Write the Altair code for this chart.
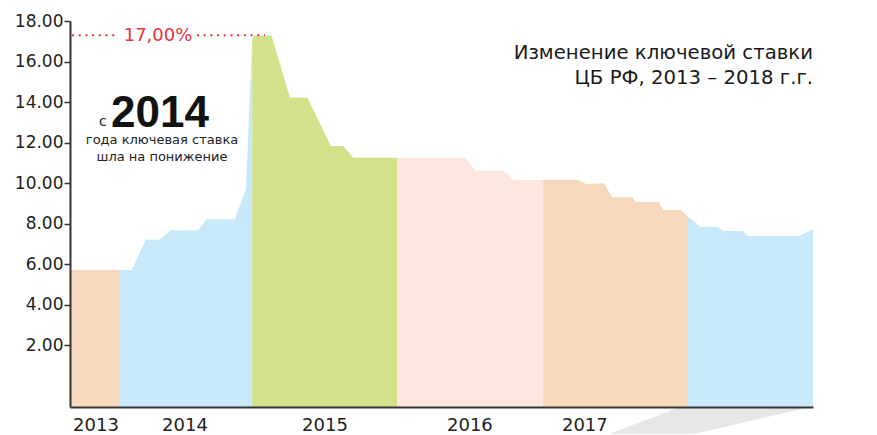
import altair as alt
import pandas as pd

# ---- data (x = fractional year, y = key rate as drawn) ----
band_names = ["b2013", "b2014", "b2015", "b2016", "b2017", "b2018"]
band_colors = ["#F6D9BD", "#C8E9F9", "#D3E18B", "#FDE7DE", "#F6D9BD", "#C8E9F9"]

t_2013 = [2013.662, 2014.000]
r_2013 = [5.71, 5.71]
t_2014 = [2014.000, 2014.088, 2014.186, 2014.283, 2014.359, 2014.547, 2014.605, 2014.800, 2014.876, 2014.919]
r_2014 = [5.71, 5.71, 7.22, 7.22, 7.67, 7.67, 8.21, 8.21, 9.74, 17.10]
t_2015 = [2014.919, 2014.931, 2015.053, 2015.179, 2015.299, 2015.462, 2015.547, 2015.616, 2015.921]
r_2015 = [17.10, 17.27, 17.27, 14.23, 14.23, 11.83, 11.83, 11.25, 11.25]
t_2016 = [2015.921, 2016.393, 2016.460, 2016.650, 2016.726, 2016.926]
r_2016 = [11.25, 11.25, 10.61, 10.61, 10.15, 10.15]
t_2017 = [2016.926, 2017.168, 2017.226, 2017.345, 2017.402, 2017.540, 2017.566, 2017.722, 2017.754, 2017.876, 2017.926]
r_2017 = [10.15, 10.15, 9.94, 10.00, 9.30, 9.30, 9.07, 9.07, 8.67, 8.67, 8.34]
t_2018 = [2017.926, 2018.007, 2018.133, 2018.168, 2018.301, 2018.340, 2018.692, 2018.788]
r_2018 = [8.34, 7.85, 7.85, 7.63, 7.63, 7.39, 7.39, 7.72]

year_labels = ["2013", "2014", "2015", "2016", "2017"]
year_label_t = [2013.841, 2014.455, 2015.421, 2016.421, 2017.214]

y_ticks = [2, 4, 6, 8, 10, 12, 14, 16, 18]
peak_value = 17.30
peak_text = "17,00%"
dot_start = [2013.676, 2014.538]
dot_end = [2013.993, 2015.007]

trap_t = [2017.366, 2017.869, 2017.938, 2018.766]
trap_top = [-2.43, -1.05, -1.05, -1.05]
trap_bottom = [-2.43, -2.43, -2.43, -1.05]

x_domain = [2013.662, 2018.788]
y_domain = [-1.05, 18]

title_lines = ["Изменение ключевой ставки", "ЦБ РФ, 2013 – 2018 г.г."]

# ---- build tables ----
rows = []
for name, ts, rs in zip(band_names, [t_2013, t_2014, t_2015, t_2016, t_2017, t_2018],
                        [r_2013, r_2014, r_2015, r_2016, r_2017, r_2018]):
    for tt, rr in zip(ts, rs):
        rows.append({"t": tt, "rate": rr, "base": y_domain[0], "band": name})
df = pd.DataFrame(rows)

W, H = 743, 386
FONT = "DejaVu Sans"

xs = alt.Scale(domain=x_domain, nice=False, zero=False)
ys = alt.Scale(domain=y_domain, nice=False, zero=False)
x_axis = alt.Axis(labels=False, ticks=False, grid=False, title=None,
                  domainColor="#333333", domainWidth=2, zindex=2)
y_axis = alt.Axis(values=y_ticks, format=".2f", grid=False, title=None,
                  labelFont=FONT, labelFontSize=17, labelColor="#222222",
                  labelPadding=1, tickSize=6, tickColor="#333333", tickWidth=1.5,
                  domainColor="#333333", domainWidth=2, zindex=2)

areas = alt.Chart(df).mark_area(interpolate="linear").encode(
    x=alt.X("t:Q", scale=xs, axis=x_axis),
    y=alt.Y("rate:Q", scale=ys, axis=y_axis, stack=None),
    y2="base:Q",
    color=alt.Color("band:N", scale=alt.Scale(domain=band_names, range=band_colors), legend=None),
    detail="band:N",
)

trap_df = pd.DataFrame({"t": trap_t, "rate": trap_top, "base": trap_bottom})
trap = alt.Chart(trap_df).mark_area(color="#E6E7E8", interpolate="linear").encode(
    x=alt.X("t:Q", scale=xs, axis=x_axis),
    y=alt.Y("rate:Q", scale=ys, axis=y_axis),
    y2="base:Q",
)

dots_df = pd.DataFrame({"t": dot_start, "t2": dot_end, "rate": [peak_value] * len(dot_start)})
dots = alt.Chart(dots_df).mark_rule(color="#E8333A", strokeWidth=2, strokeDash=[2, 4.7]).encode(
    x=alt.X("t:Q", scale=xs, axis=x_axis),
    x2="t2:Q",
    y=alt.Y("rate:Q", scale=ys, axis=y_axis),
)

one = pd.DataFrame({"a": [0]})

peak_label = alt.Chart(one).mark_text(text=peak_text, font=FONT, fontSize=18, color="#E8333A",
                                      align="center", baseline="alphabetic").encode(
    x=alt.value(88), y=alt.value(20))

years_df = pd.DataFrame({"t": year_label_t, "label": year_labels})
years = alt.Chart(years_df).mark_text(font=FONT, fontSize=18, color="#222222",
                                      align="center", baseline="middle").encode(
    x=alt.X("t:Q", scale=xs, axis=x_axis),
    y=alt.value(H + 19),
    text="label:N",
)

title = alt.Chart(one).mark_text(text=title_lines, font=FONT, fontSize=19.7, color="#1a1a1a",
                                 align="right", baseline="alphabetic", lineHeight=25).encode(
    x=alt.value(W), y=alt.value(38))

small_c = alt.Chart(one).mark_text(text="с", font=FONT, fontSize=14, color="#222222",
                                   align="left", baseline="alphabetic").encode(
    x=alt.value(29), y=alt.value(105))
big_year = alt.Chart(one).mark_text(text="2014", font="Liberation Sans", fontSize=44,
                                    fontWeight="bold", color="#111111",
                                    align="left", baseline="alphabetic").encode(
    x=alt.value(41), y=alt.value(106))
sub_text = alt.Chart(one).mark_text(text=["года ключевая ставка", "шла на понижение"], font=FONT,
                                    fontSize=13, color="#222222", align="center",
                                    baseline="alphabetic", lineHeight=16.5).encode(
    x=alt.value(92), y=alt.value(123))

chart = alt.layer(areas, trap, dots, peak_label, years, title, small_c, big_year, sub_text).properties(
    width=W, height=H,
    autosize=alt.AutoSizeParams(type="none"),
    padding={"left": 62, "top": 13, "right": 56, "bottom": 27},
    background="white",
).configure_view(stroke=None)

chart.save("out.html", embed_options={"renderer": "svg", "actions": False})
